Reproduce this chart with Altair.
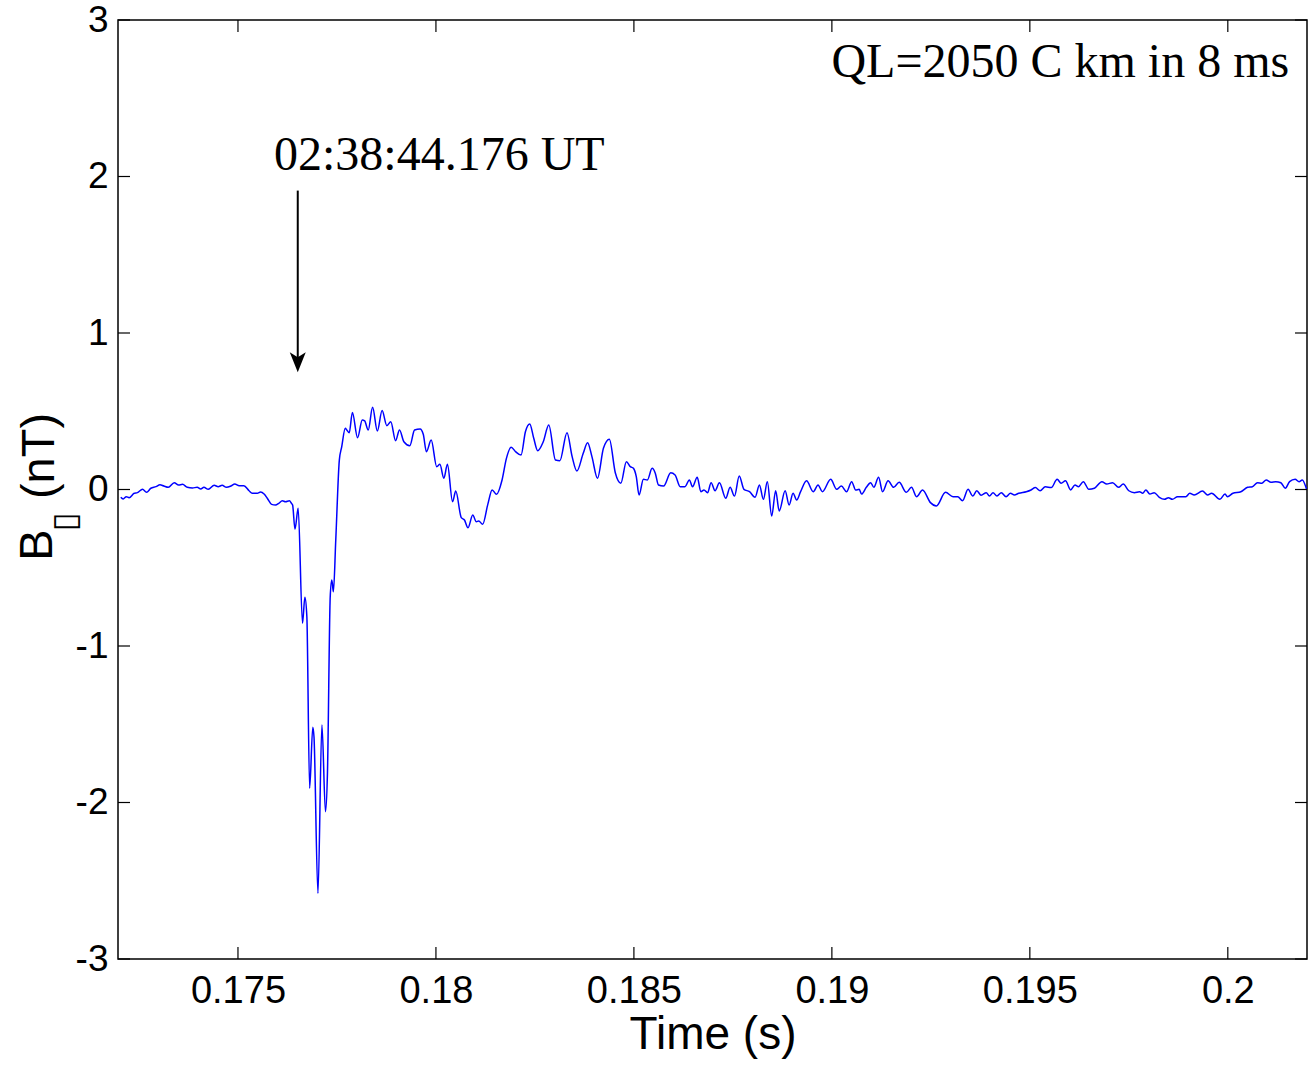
import altair as alt
import pandas as pd

# ---------------- data ----------------
time_s = [
    0.17204, 0.17210, 0.17218, 0.17225, 0.17238, 0.17246, 0.17259, 0.17269, 0.17280, 0.17293,
    0.17303, 0.17313, 0.17324, 0.17339, 0.17350, 0.17360, 0.17372, 0.17385, 0.17397, 0.17406,
    0.17414, 0.17425, 0.17440, 0.17450, 0.17460, 0.17471, 0.17482, 0.17492, 0.17503, 0.17515,
    0.17528, 0.17536, 0.17549, 0.17557, 0.17566, 0.17574, 0.17585, 0.17595, 0.17603, 0.17612,
    0.17620, 0.17630, 0.17635, 0.17638, 0.17644, 0.17652, 0.17663, 0.17669, 0.17674, 0.17681,
    0.17689, 0.17692, 0.17702, 0.17712, 0.17721, 0.17726, 0.17733, 0.17737, 0.17741, 0.17747,
    0.17756, 0.17762, 0.17771, 0.17775, 0.17781, 0.17789, 0.17802, 0.17814, 0.17820, 0.17829,
    0.17840, 0.17852, 0.17864, 0.17876, 0.17886, 0.17898, 0.17908, 0.17919, 0.17934, 0.17946,
    0.17960, 0.17968, 0.17976, 0.17988, 0.18002, 0.18010, 0.18020, 0.18029, 0.18042, 0.18050,
    0.18064, 0.18072, 0.18081, 0.18093, 0.18102, 0.18108, 0.18118, 0.18131, 0.18142, 0.18153,
    0.18167, 0.18178, 0.18190, 0.18201, 0.18215, 0.18226, 0.18237, 0.18247, 0.18257, 0.18271,
    0.18285, 0.18302, 0.18313, 0.18331, 0.18344, 0.18356, 0.18372, 0.18383, 0.18394, 0.18408,
    0.18423, 0.18438, 0.18453, 0.18467, 0.18481, 0.18491, 0.18499, 0.18506, 0.18513, 0.18524,
    0.18534, 0.18546, 0.18554, 0.18562, 0.18575, 0.18593, 0.18604, 0.18617, 0.18629, 0.18640,
    0.18648, 0.18660, 0.18669, 0.18677, 0.18686, 0.18695, 0.18705, 0.18716, 0.18732, 0.18743,
    0.18754, 0.18766, 0.18778, 0.18792, 0.18806, 0.18817, 0.18827, 0.18837, 0.18848, 0.18858,
    0.18867, 0.18882, 0.18892, 0.18902, 0.18911, 0.18921, 0.18936, 0.18953, 0.18965, 0.18976,
    0.18997, 0.19012, 0.19024, 0.19037, 0.19050, 0.19060, 0.19069, 0.19075, 0.19087, 0.19098,
    0.19106, 0.19118, 0.19128, 0.19142, 0.19156, 0.19170, 0.19188, 0.19201, 0.19214, 0.19229,
    0.19249, 0.19264, 0.19287, 0.19306, 0.19318, 0.19330, 0.19344, 0.19356, 0.19366, 0.19377,
    0.19390, 0.19398, 0.19407, 0.19417, 0.19428, 0.19440, 0.19451, 0.19461, 0.19472, 0.19491,
    0.19503, 0.19514, 0.19526, 0.19539, 0.19554, 0.19569, 0.19579, 0.19590, 0.19603, 0.19614,
    0.19623, 0.19635, 0.19649, 0.19663, 0.19682, 0.19694, 0.19709, 0.19724, 0.19736, 0.19750,
    0.19764, 0.19777, 0.19785, 0.19793, 0.19803, 0.19814, 0.19827, 0.19840, 0.19850, 0.19860,
    0.19873, 0.19894, 0.19904, 0.19915, 0.19936, 0.19949, 0.19959, 0.19980, 0.19993, 0.19999,
    0.20013, 0.20033, 0.20050, 0.20062, 0.20075, 0.20086, 0.20097, 0.20109, 0.20121, 0.20134,
    0.20145, 0.20156, 0.20170, 0.20180, 0.20188, 0.20199,
]
b_nt = [
    -0.050, -0.061, -0.046, -0.052, -0.024, -0.020, 0.001, -0.018, 0.008, 0.018,
    0.031, 0.022, 0.014, 0.043, 0.029, 0.033, 0.014, 0.010, 0.014, 0.003,
    0.014, 0.001, 0.027, 0.018, 0.027, 0.014, 0.022, 0.035, 0.024, 0.024,
    -0.008, -0.024, -0.024, -0.016, -0.029, -0.056, -0.095, -0.099, -0.088, -0.072,
    -0.078, -0.072, -0.088, -0.099, -0.254, -0.120, -0.855, -0.689, -0.813, -1.909,
    -1.519, -1.580, -2.580, -1.505, -2.059, -1.813, -0.685, -0.578, -0.653, -0.323,
    0.188, 0.273, 0.391, 0.380, 0.363, 0.492, 0.331, 0.444, 0.438, 0.380,
    0.525, 0.374, 0.504, 0.408, 0.433, 0.312, 0.380, 0.305, 0.280, 0.380,
    0.387, 0.353, 0.242, 0.316, 0.146, 0.161, 0.072, 0.161, -0.078, -0.010,
    -0.180, -0.195, -0.244, -0.163, -0.206, -0.201, -0.222, -0.095, -0.003, -0.031,
    0.061, 0.199, 0.270, 0.242, 0.220, 0.369, 0.419, 0.327, 0.248, 0.305,
    0.412, 0.188, 0.184, 0.363, 0.210, 0.118, 0.231, 0.299, 0.210, 0.072,
    0.263, 0.321, 0.107, 0.040, 0.178, 0.146, 0.135, 0.082, -0.035, 0.065,
    0.061, 0.135, 0.104, 0.029, 0.022, 0.107, 0.093, 0.018, 0.018, 0.061,
    0.018, 0.078, -0.014, -0.003, -0.020, 0.043, -0.008, 0.043, -0.056, 0.014,
    -0.042, 0.086, 0.001, -0.014, -0.050, 0.029, -0.063, 0.050, -0.169, -0.008,
    -0.137, -0.008, -0.099, -0.024, -0.067, -0.014, 0.056, -0.014, 0.029, -0.014,
    0.065, 0.001, 0.022, -0.014, 0.050, -0.003, 0.001, -0.029, 0.014, 0.043,
    0.014, 0.078, -0.014, 0.056, 0.014, 0.046, -0.018, 0.014, -0.046, -0.003,
    -0.084, -0.105, -0.018, -0.046, -0.046, -0.072, 0.001, -0.042, -0.008, -0.037,
    -0.020, -0.042, -0.020, -0.042, -0.020, -0.046, -0.024, -0.035, -0.024, -0.014,
    -0.003, 0.012, -0.008, 0.018, 0.012, 0.065, 0.040, 0.056, -0.003, 0.029,
    0.018, 0.050, 0.001, 0.008, 0.050, 0.035, 0.043, 0.014, 0.035, -0.008,
    -0.020, -0.014, -0.024, -0.003, -0.029, -0.020, -0.050, -0.063, -0.052, -0.063,
    -0.046, -0.046, -0.024, -0.035, -0.010, -0.035, -0.024, -0.063, -0.029, -0.046,
    -0.024, -0.014, 0.014, 0.018, 0.043, 0.040, 0.061, 0.046, 0.050, 0.043,
    0.008, 0.050, 0.065, 0.050, 0.061, 0.001,
]

x_ticks = [0.175, 0.18, 0.185, 0.19, 0.195, 0.2]
y_ticks = [-3, -2, -1, 0, 1, 2, 3]
x_domain = [0.17197, 0.20200]
y_domain = [-3, 3]

time_label = ["02:38:44.176 UT"]
time_label_t = [0.17591]
time_label_v = [2.04]

ql_label = ["QL=2050 C km in 8 ms"]
ql_label_t = [0.20155]
ql_label_v = [2.636]

arrow_t = [0.17651]
arrow_top = [1.91]
arrow_bottom = [0.80]
arrow_tip = [0.75]

y_title_parts = ["B", "\u25af", "(nT)"]
x_title = "Time (s)"

# ---------------- chart ----------------
W, H = 1189, 939
SANS = "Liberation Sans"
SERIF = "Liberation Serif"

xs = alt.Scale(domain=x_domain, nice=False, zero=False)
ys = alt.Scale(domain=y_domain, nice=False, zero=False)

df = pd.DataFrame({"t": time_s, "b": b_nt})

line = alt.Chart(df).mark_line(color="#0000ff", strokeWidth=1.5, clip=True, interpolate="monotone").encode(
    x=alt.X("t:Q", scale=xs, axis=alt.Axis(
        values=x_ticks, labelExpr="'' + datum.value", ticks=False, domain=False, grid=False,
        labelFont=SANS, labelFontSize=38, labelColor="black", labelPadding=13,
        title=x_title, titleFont=SANS, titleFontSize=46, titleFontWeight="normal",
        titleColor="black", titlePadding=2)),
    y=alt.Y("b:Q", scale=ys, axis=alt.Axis(
        values=y_ticks,
        labelExpr="datum.value < 0 ? datum.value + '\u00a0' : '' + datum.value",
        ticks=False, domain=False, grid=False,
        labelFont=SANS, labelFontSize=37, labelColor="black", labelPadding=10, title=None)),
)

dfx = pd.DataFrame({"t": x_ticks})
dfy = pd.DataFrame({"b": y_ticks})
xt_bottom = alt.Chart(dfx).mark_rule(color="black", strokeWidth=1.2).encode(
    x=alt.X("t:Q", scale=xs), y=alt.value(H), y2=alt.value(H - 12))
xt_top = alt.Chart(dfx).mark_rule(color="black", strokeWidth=1.2).encode(
    x=alt.X("t:Q", scale=xs), y=alt.value(0), y2=alt.value(12))
yt_left = alt.Chart(dfy).mark_rule(color="black", strokeWidth=1.2).encode(
    y=alt.Y("b:Q", scale=ys), x=alt.value(0), x2=alt.value(12))
yt_right = alt.Chart(dfy).mark_rule(color="black", strokeWidth=1.2).encode(
    y=alt.Y("b:Q", scale=ys), x=alt.value(W), x2=alt.value(W - 12))

df_tl = pd.DataFrame({"t": time_label_t, "b": time_label_v, "s": time_label})
tl = alt.Chart(df_tl).mark_text(font=SERIF, fontSize=48, align="left", baseline="alphabetic",
                                color="black").encode(
    x=alt.X("t:Q", scale=xs), y=alt.Y("b:Q", scale=ys), text="s:N")

df_ql = pd.DataFrame({"t": ql_label_t, "b": ql_label_v, "s": ql_label})
ql = alt.Chart(df_ql).mark_text(font=SERIF, fontSize=48, align="right", baseline="alphabetic",
                                color="black").encode(
    x=alt.X("t:Q", scale=xs), y=alt.Y("b:Q", scale=ys), text="s:N")

df_ar = pd.DataFrame({"t": arrow_t, "b": arrow_top, "b2": arrow_bottom})
arrow_line = alt.Chart(df_ar).mark_rule(color="black", strokeWidth=2).encode(
    x=alt.X("t:Q", scale=xs), y=alt.Y("b:Q", scale=ys), y2="b2:Q")
df_ah = pd.DataFrame({"t": arrow_t, "b": arrow_tip})
arrow_head = alt.Chart(df_ah).mark_point(
    shape="M0,0 L-0.8,-2 L0,-1.5 L0.8,-2 Z", filled=True, color="black", opacity=1, size=400,
    strokeWidth=0).encode(
    x=alt.X("t:Q", scale=xs), y=alt.Y("b:Q", scale=ys))

df_yt = pd.DataFrame({"s": y_title_parts})
yB = alt.Chart(df_yt).transform_filter(alt.datum.s == y_title_parts[0]).mark_text(
    font=SANS, fontSize=47, angle=270, align="center", baseline="middle", color="black").encode(
    x=alt.value(-80), y=alt.value(525), text="s:N")
yBox = alt.Chart(df_yt).transform_filter(alt.datum.s == y_title_parts[1]).mark_text(
    font="DejaVu Sans", fontSize=34, angle=270, align="center", baseline="middle", color="black").encode(
    x=alt.value(-52), y=alt.value(502), text="s:N")
yU = alt.Chart(df_yt).transform_filter(alt.datum.s == y_title_parts[2]).mark_text(
    font=SANS, fontSize=47, angle=270, align="center", baseline="middle", color="black").encode(
    x=alt.value(-78), y=alt.value(436), text="s:N")

chart = alt.layer(
    line, xt_bottom, xt_top, yt_left, yt_right, arrow_line, arrow_head, tl, ql, yB, yBox, yU
).properties(
    width=W, height=H,
    autosize=alt.AutoSizeParams(type="none"),
    padding={"left": 118, "top": 20, "right": 1, "bottom": 106},
    background="white",
).configure_view(stroke="black", strokeWidth=1.5)

chart.save("out.html", embed_options={"renderer": "svg", "actions": False})
